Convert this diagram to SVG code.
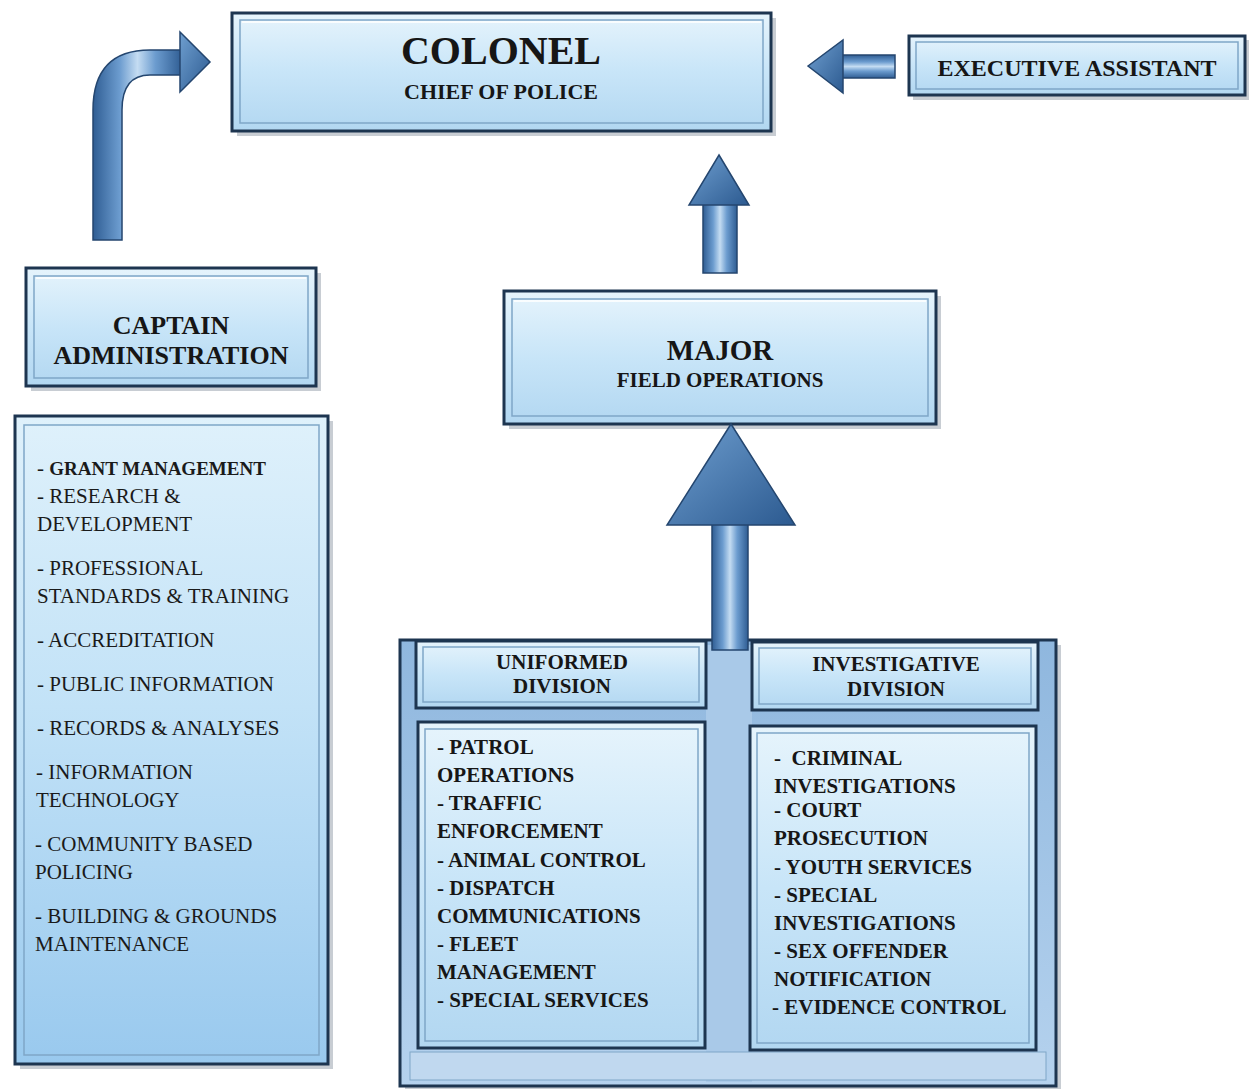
<svg xmlns="http://www.w3.org/2000/svg" width="1253" height="1089" viewBox="0 0 1253 1089">
<defs>
<linearGradient id="boxg" x1="0" y1="0" x2="0" y2="1">
<stop offset="0" stop-color="#e6f4fc"/>
<stop offset="0.5" stop-color="#c8e5f8"/>
<stop offset="1" stop-color="#b2d7f1"/>
</linearGradient>
<linearGradient id="listg" x1="0" y1="0" x2="0" y2="1">
<stop offset="0" stop-color="#dff1fb"/>
<stop offset="0.45" stop-color="#c2e2f7"/>
<stop offset="1" stop-color="#99c9ee"/>
</linearGradient>
<linearGradient id="panelg" x1="0" y1="0" x2="0" y2="1">
<stop offset="0" stop-color="#8fb7de"/>
<stop offset="1" stop-color="#b5d2ee"/>
</linearGradient>
<linearGradient id="arrV" x1="0" y1="0" x2="1" y2="0">
<stop offset="0" stop-color="#2f5d93"/>
<stop offset="0.3" stop-color="#6c9ccf"/>
<stop offset="0.5" stop-color="#c4dcf2"/>
<stop offset="0.7" stop-color="#6c9ccf"/>
<stop offset="1" stop-color="#2f5d93"/>
</linearGradient>
<linearGradient id="arrH" x1="0" y1="0" x2="0" y2="1">
<stop offset="0" stop-color="#2f5d93"/>
<stop offset="0.3" stop-color="#6c9ccf"/>
<stop offset="0.5" stop-color="#c4dcf2"/>
<stop offset="0.7" stop-color="#6c9ccf"/>
<stop offset="1" stop-color="#2f5d93"/>
</linearGradient>
<linearGradient id="headg" x1="0" y1="0" x2="1" y2="1">
<stop offset="0" stop-color="#6f9fd0"/>
<stop offset="1" stop-color="#2c5a90"/>
</linearGradient>
</defs>
<style>
.shadow{fill:#9aa4ae;opacity:0.55}
.outer{fill:url(#boxg);stroke:#1d3550;stroke-width:3}
.inner{fill:none;stroke:#7fa6c7;stroke-width:1.5}
.hl{fill:none;stroke:#ffffff;stroke-width:2;opacity:0.8}
.listbox{fill:url(#listg);stroke:#1d3550;stroke-width:3}
.title{font-family:"Liberation Serif","DejaVu Serif",serif;font-weight:bold;fill:#161616;text-anchor:middle}
.item{font-family:"Liberation Serif","DejaVu Serif",serif;font-size:21px;fill:#1a1a1a}
.bitem{font-family:"Liberation Serif","DejaVu Serif",serif;font-size:21px;font-weight:bold;fill:#161616}
.arrow{stroke:#24466f;stroke-width:1.5}
</style>

<g id="connectors">
<path class="arrow" fill="url(#arrV)" d="M93,240 L93,110 Q93,50 150,50 L182,50 L182,75 L150,75 Q122,75 122,110 L122,240 Z"/>
<path class="arrow" fill="url(#headg)" d="M180,32 L210,62 L180,92 Z"/>
<rect class="arrow" x="703" y="203" width="34" height="70" fill="url(#arrV)"/>
<path class="arrow" fill="url(#headg)" d="M719,155 L749,205 L689,205 Z"/>
<rect class="arrow" x="842" y="55" width="53" height="23" fill="url(#arrH)"/>
<path class="arrow" fill="url(#headg)" d="M808,66 L843,40 L843,93 Z"/>
</g>

<g id="colonel">
<rect class="shadow" x="237" y="18" width="539" height="118"/>
<rect class="outer" x="232" y="13" width="539" height="118"/>
<rect class="inner" x="240" y="20" width="523" height="103"/>
<line class="hl" x1="242" y1="22" x2="761" y2="22"/>
<text class="title" x="501" y="64" font-size="40">COLONEL</text>
<text class="title" x="501" y="99" font-size="22">CHIEF OF POLICE</text>
</g>

<g id="executive-assistant">
<rect class="shadow" x="913" y="40" width="336" height="60"/>
<rect class="outer" x="909" y="36" width="336" height="59"/>
<rect class="inner" x="916" y="42" width="322" height="47"/>
<text class="title" x="1077" y="76" font-size="24">EXECUTIVE ASSISTANT</text>
</g>

<g id="captain">
<rect class="shadow" x="31" y="273" width="290" height="118"/>
<rect class="outer" x="26" y="268" width="290" height="118"/>
<rect class="inner" x="34" y="276" width="274" height="102"/>
<line class="hl" x1="36" y1="278" x2="306" y2="278"/>
<text class="title" x="171" y="334" font-size="26">CAPTAIN</text>
<text class="title" x="171" y="364" font-size="26">ADMINISTRATION</text>
</g>

<g id="admin-list">
<rect class="shadow" x="20" y="421" width="313" height="648"/>
<rect class="listbox" x="15" y="416" width="313" height="648"/>
<rect class="inner" x="24" y="425" width="295" height="630"/>
<text class="item" x="37" y="475">- <tspan font-weight="bold" font-size="19">GRANT MANAGEMENT</tspan></text>
<text class="item" x="37" y="503">- RESEARCH &amp;</text>
<text class="item" x="37" y="531">DEVELOPMENT</text>
<text class="item" x="37" y="575">- PROFESSIONAL</text>
<text class="item" x="37" y="603">STANDARDS &amp; TRAINING</text>
<text class="item" x="37" y="647">- ACCREDITATION</text>
<text class="item" x="37" y="691">- PUBLIC INFORMATION</text>
<text class="item" x="37" y="735">- RECORDS &amp; ANALYSES</text>
<text class="item" x="36" y="779">- INFORMATION</text>
<text class="item" x="36" y="807">TECHNOLOGY</text>
<text class="item" x="35" y="851">- COMMUNITY BASED</text>
<text class="item" x="35" y="879">POLICING</text>
<text class="item" x="35" y="923">- BUILDING &amp; GROUNDS</text>
<text class="item" x="35" y="951">MAINTENANCE</text>
</g>

<g id="major">
<rect class="shadow" x="509" y="296" width="432" height="133"/>
<rect class="outer" x="504" y="291" width="432" height="133"/>
<rect class="inner" x="512" y="299" width="416" height="117"/>
<line class="hl" x1="514" y1="301" x2="926" y2="301"/>
<text class="title" x="720" y="360" font-size="29">MAJOR</text>
<text class="title" x="720" y="387" font-size="21">FIELD OPERATIONS</text>
</g>

<g id="field-panel">
<rect class="shadow" x="405" y="645" width="656" height="444"/>
<rect x="400" y="640" width="656" height="446" fill="url(#panelg)" stroke="#1d3550" stroke-width="3"/>
<rect x="706" y="645" width="46" height="437" fill="#a9c9e8"/>
<rect x="410" y="1052" width="636" height="28" fill="#c0d8ef" stroke="#7fa6c7" stroke-width="1"/>
</g>

<g id="big-arrow">
<rect class="arrow" x="712" y="522" width="36" height="128" fill="url(#arrV)"/>
<path class="arrow" fill="url(#headg)" d="M731,424 L795,525 L667,525 Z"/>
</g>

<g id="uniformed-division">
<rect class="outer" x="416" y="641" width="290" height="67"/>
<rect class="inner" x="423" y="647" width="276" height="55"/>
<text class="title" x="562" y="669" font-size="21">UNIFORMED</text>
<text class="title" x="562" y="693" font-size="21">DIVISION</text>
</g>

<g id="investigative-division">
<rect class="outer" x="752" y="642" width="286" height="68"/>
<rect class="inner" x="759" y="648" width="272" height="56"/>
<text class="title" x="896" y="671" font-size="21">INVESTIGATIVE</text>
<text class="title" x="896" y="696" font-size="21">DIVISION</text>
</g>

<g id="uniformed-list">
<rect class="outer" x="418" y="722" width="287" height="326"/>
<rect class="inner" x="425" y="729" width="273" height="312"/>
<text class="bitem" x="437" y="754">- PATROL</text>
<text class="bitem" x="437" y="782">OPERATIONS</text>
<text class="bitem" x="437" y="810">- TRAFFIC</text>
<text class="bitem" x="437" y="838">ENFORCEMENT</text>
<text class="bitem" x="437" y="867">- ANIMAL CONTROL</text>
<text class="bitem" x="437" y="895">- DISPATCH</text>
<text class="bitem" x="437" y="923">COMMUNICATIONS</text>
<text class="bitem" x="437" y="951">- FLEET</text>
<text class="bitem" x="437" y="979">MANAGEMENT</text>
<text class="bitem" x="437" y="1007">- SPECIAL SERVICES</text>
</g>

<g id="investigative-list">
<rect class="outer" x="750" y="726" width="286" height="324"/>
<rect class="inner" x="757" y="733" width="272" height="310"/>
<text class="bitem" x="774" y="765" xml:space="preserve">-  CRIMINAL</text>
<text class="bitem" x="774" y="793">INVESTIGATIONS</text>
<text class="bitem" x="774" y="817">- COURT</text>
<text class="bitem" x="774" y="845">PROSECUTION</text>
<text class="bitem" x="774" y="874">- YOUTH SERVICES</text>
<text class="bitem" x="774" y="902">- SPECIAL</text>
<text class="bitem" x="774" y="930">INVESTIGATIONS</text>
<text class="bitem" x="774" y="958">- SEX OFFENDER</text>
<text class="bitem" x="774" y="986">NOTIFICATION</text>
<text class="bitem" x="772" y="1014">- EVIDENCE CONTROL</text>
</g>
</svg>
